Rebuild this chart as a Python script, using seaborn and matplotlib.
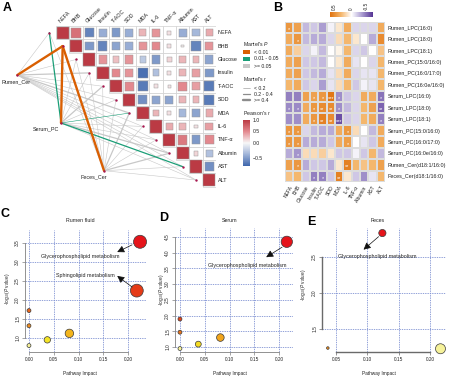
import numpy as np
import pandas as pd
import matplotlib
matplotlib.use("Agg")
import matplotlib.pyplot as plt
import seaborn as sns
from matplotlib.colors import LinearSegmentedColormap, TwoSlopeNorm
from matplotlib.patches import Rectangle
from matplotlib.cm import ScalarMappable

sns.set_theme(style="white")
plt.rcParams['font.family'] = ['Liberation Sans', 'DejaVu Sans']
plt.rcParams['mathtext.fontset'] = 'custom'
plt.rcParams['mathtext.rm'] = 'Liberation Sans'
plt.rcParams['mathtext.it'] = 'Liberation Sans:italic'

# ---------------- data ----------------
env_vars = ["NEFA", "BHB", "Glucose", "Insulin", "T-AOC", "SOD", "MDA",
            "IL-6", "TNF-α", "Albumin", "AST", "ALT"]

# Panel A: upper triangle of Pearson's r (each row starts at the diagonal)
pearson_rows = [
    [1.0, 0.65, -0.6, -0.4, -0.5, -0.4, 0.3, 0.45, 0.1, -0.4, -0.35, 0.35],
    [1.0, -0.5, -0.6, -0.45, -0.4, 0.45, 0.5, 0.1, 0.05, -0.6, 0.45],
    [1.0, 0.45, 0.25, 0.45, -0.25, -0.5, 0.15, 0.3, 0.3, -0.45],
    [1.0, 0.5, 0.45, -0.7, -0.3, 0.1, 0.3, 0.4, -0.5],
    [1.0, 0.5, -0.65, 0.1, 0.08, 0.5, 0.4, -0.65],
    [1.0, -0.55, -0.45, -0.45, 0.3, 0.3, -0.65],
    [1.0, 0.3, 0.1, -0.35, -0.45, 0.35],
    [1.0, 0.35, 0.3, 0.1, 0.4],
    [1.0, 0.6, -0.5, 0.5],
    [1.0, 0.15, -0.3],
    [1.0, -0.55],
    [1.0],
]

mantel_sources = ["Rumen_Cer", "Serum_PC", "Feces_Cer"]
mantel_p_rumen = [">=0.05", "<0.01", ">=0.05", ">=0.05", ">=0.05", ">=0.05",
                  ">=0.05", ">=0.05", ">=0.05", ">=0.05", ">=0.05", ">=0.05"]
mantel_p_serum = ["0.01-0.05", "<0.01", ">=0.05", ">=0.05", ">=0.05", ">=0.05",
                  "0.01-0.05", ">=0.05", ">=0.05", ">=0.05", "0.01-0.05", ">=0.05"]
mantel_p_feces = [">=0.05", "<0.01", ">=0.05", ">=0.05", ">=0.05", ">=0.05",
                  ">=0.05", ">=0.05", ">=0.05", ">=0.05", ">=0.05", ">=0.05"]
mantel_r_rumen = ["<0.2", ">=0.4", "<0.2", "0.2-0.4", "<0.2", "<0.2",
                  "0.2-0.4", "<0.2", "<0.2", "<0.2", "<0.2", "<0.2"]
mantel_r_serum = ["0.2-0.4", ">=0.4", "<0.2", "<0.2", "0.2-0.4", "<0.2",
                  "<0.2", "<0.2", "<0.2", "0.2-0.4", "0.2-0.4", "<0.2"]
mantel_r_feces = ["<0.2", ">=0.4", "<0.2", "<0.2", "<0.2", "<0.2",
                  "0.2-0.4", "<0.2", "<0.2", "0.2-0.4", "<0.2", "<0.2"]

# Panel B
metabolites = ["Rumen_LPC(16:0)", "Rumen_LPC(18:0)", "Rumen_LPC(18:1)",
               "Rumen_PC(15:0/16:0)", "Rumen_PC(16:0/17:0)", "Rumen_PC(16:0e/16:0)",
               "Serum_LPC(16:0)", "Serum_LPC(18:0)", "Serum_LPC(18:1)",
               "Serum_PC(15:0/16:0)", "Serum_PC(16:0/17:0)", "Serum_PC(16:0e/16:0)",
               "Rumen_Cer(d18:1/16:0)", "Feces_Cer(d18:1/16:0)"]
corr_b = [
    [0.45, 0.40, -0.25, -0.20, -0.35, -0.05, 0.10, 0.35, -0.15, -0.15, -0.15, 0.35],
    [0.35, 0.45, -0.25, -0.30, -0.30, -0.15, 0.15, 0.30, 0.10, 0.00, -0.30, 0.50],
    [0.35, 0.20, -0.15, -0.05, -0.25, 0.00, 0.05, 0.30, -0.15, -0.20, 0.00, 0.25],
    [0.35, 0.40, -0.20, -0.20, -0.25, 0.00, 0.10, 0.35, -0.10, 0.00, -0.15, 0.30],
    [0.35, 0.40, -0.20, -0.25, -0.30, -0.10, 0.15, 0.35, -0.15, -0.10, -0.10, 0.30],
    [0.30, 0.35, -0.20, -0.15, -0.35, -0.10, 0.15, 0.30, -0.20, -0.05, -0.10, 0.30],
    [-0.45, -0.45, 0.40, 0.40, 0.45, 0.60, -0.40, -0.20, -0.15, 0.35, 0.35, -0.50],
    [-0.42, -0.42, 0.35, 0.45, 0.50, 0.50, -0.40, -0.25, -0.15, 0.30, 0.40, -0.55],
    [-0.40, -0.40, 0.35, 0.45, 0.55, 0.50, -0.62, -0.20, -0.15, 0.30, 0.35, -0.45],
    [0.45, 0.45, -0.15, -0.25, -0.30, -0.30, 0.35, 0.45, 0.15, 0.00, -0.25, 0.35],
    [0.45, 0.45, -0.30, -0.30, -0.30, -0.20, 0.35, 0.42, 0.00, -0.10, -0.20, 0.35],
    [-0.30, -0.38, 0.15, 0.15, 0.20, 0.10, -0.20, -0.20, -0.05, -0.20, 0.30, -0.25],
    [0.40, 0.45, -0.30, -0.20, -0.20, -0.30, 0.10, 0.55, 0.30, 0.25, 0.30, 0.40],
    [0.25, 0.30, -0.20, -0.45, -0.45, -0.20, 0.55, 0.10, -0.20, -0.40, -0.10, 0.30],
]
sig_rows = [0, 1, 6, 6, 6, 6, 6, 7, 7, 7, 7, 7, 7, 7, 8, 8, 8, 8, 8,
            9, 9, 9, 10, 10, 10, 11, 12, 12, 13, 13, 13]
sig_cols = [0, 1, 3, 4, 5, 6, 11, 0, 1, 3, 4, 5, 6, 11, 3, 4, 5, 6, 11,
            0, 1, 7, 0, 1, 7, 1, 1, 7, 3, 4, 6]
sig_marks = ["*", "*", "*", "*", "***", "*", "*", "*", "*", "*", "**", "**", "*", "**",
             "*", "**", "**", "***", "*", "*", "*", "*", "*", "*", "*", "*", "*", "**",
             "*", "*", "**"]

# Panels C-E (pathway impact vs -log10 P)
c_impact = [0.224, 0.2175, 0.0, 0.0, 0.0, 0.037, 0.0815]
c_logp = [3.53, 2.245, 1.72, 1.32, 0.80, 0.95, 1.12]
d_impact = [0.2155, 0.0, 0.0, 0.0, 0.037, 0.0815]
d_logp = [4.35, 1.89, 1.47, 0.95, 1.09, 1.30]
e_impact = [0.124, 0.037, 0.2167]
e_logp = [2.83, 1.235, 1.225]

# ---------------- figure ----------------
W, H = 449, 376
fig = plt.figure(figsize=(W / 100, H / 100), dpi=100)
fig.patch.set_facecolor("white")


def px_axes(l, t, r, b):
    return fig.add_axes([l / W, 1 - b / H, (r - l) / W, (b - t) / H])


def ftext(x, y, s, **kw):
    kw.setdefault("ha", "center")
    kw.setdefault("va", "center")
    fig.text(x / W, 1 - y / H, s, **kw)


TXT = "#222222"

# ---------- Panel A ----------
cmapA = LinearSegmentedColormap.from_list(
    "pr", ["#3E66AC", "#9FB3D8", "#F7F7F7", "#E3898F", "#BB3A44"])
normA = TwoSlopeNorm(vmin=-0.75, vcenter=0.0, vmax=1.0)

axA = px_axes(0, 0, 216, 200)
axA.set_xlim(-4.2, 12)
axA.set_ylim(12.99, -1.94)
axA.axis("off")

n = len(env_vars)
for i, row in enumerate(pearson_rows):
    for k, r in enumerate(row):
        j = i + k
        axA.add_patch(Rectangle((j, i), 1, 1, facecolor="white",
                                edgecolor="#D0D0D0", lw=0.5, zorder=1))
        side = 0.92 * np.sqrt(abs(r))
        axA.add_patch(Rectangle((j + 0.5 - side / 2, i + 0.5 - side / 2), side, side,
                                facecolor=cmapA(normA(r)), edgecolor="#9A9A9A",
                                lw=0.35, zorder=2))

for i, name in enumerate(env_vars):
    axA.text(12.15, i + 0.5, name, ha="left", va="center", fontsize=3.9, color=TXT)
    axA.text(i + 0.4, -0.15, name, ha="left", va="bottom", rotation=45,
             rotation_mode="anchor", fontsize=3.9, color=TXT)

src_pos = {"Rumen_Cer": (-2.9, 3.66), "Serum_PC": (0.375, 7.24), "Feces_Cer": (3.6, 10.8)}
src_label = {"Rumen_Cer": (-3.0, 4.15, "center"), "Serum_PC": (0.25, 7.7, "right"),
             "Feces_Cer": (3.8, 11.25, "right")}
p_color = {"<0.01": "#D95F02", "0.01-0.05": "#1B9E77", ">=0.05": "#C8C8C8"}
r_width = {"<0.2": 0.4, "0.2-0.4": 0.9, ">=0.4": 1.7}
p_lists = {"Rumen_Cer": mantel_p_rumen, "Serum_PC": mantel_p_serum, "Feces_Cer": mantel_p_feces}
r_lists = {"Rumen_Cer": mantel_r_rumen, "Serum_PC": mantel_r_serum, "Feces_Cer": mantel_r_feces}

tx = [i - 0.5 for i in range(n)]
ty = [i + 0.5 for i in range(n)]
for layer in [">=0.05", "0.01-0.05", "<0.01"]:
    for s in mantel_sources:
        sx, sy = src_pos[s]
        for i in range(n):
            p = p_lists[s][i]
            if p != layer:
                continue
            axA.plot([sx, tx[i]], [sy, ty[i]], color=p_color[p],
                     lw=r_width[r_lists[s][i]], solid_capstyle="round",
                     zorder=3 if p == ">=0.05" else 4)
axA.scatter(tx, ty, s=3, color="#A8174F", zorder=6, linewidths=0)
axA.scatter([src_pos[s][0] for s in mantel_sources], [src_pos[s][1] for s in mantel_sources],
            s=3, color="#A8174F", zorder=6, linewidths=0)
for s in mantel_sources:
    lx, ly, ha = src_label[s]
    axA.text(lx, ly, s, ha=ha, va="center", fontsize=3.9, color=TXT)

# legend of panel A
axL = px_axes(236, 36, 300, 175)
axL.set_xlim(236, 300)
axL.set_ylim(175, 36)
axL.axis("off")
axL.text(243, 44, r"Mantel's $\it{P}$", fontsize=3.7, va="center", color=TXT)
for yy, lab in zip([52, 59, 66], ["<0.01", "0.01-0.05", ">=0.05"]):
    axL.add_patch(Rectangle((243, yy - 2), 7, 4, facecolor=p_color[lab], edgecolor="none"))
    axL.text(254, yy, {"<0.01": "< 0.01", "0.01-0.05": "0.01 - 0.05",
                       ">=0.05": ">= 0.05"}[lab], fontsize=3.7, va="center", color=TXT)
axL.text(243, 79, r"Mantel's $\it{r}$", fontsize=3.7, va="center", color=TXT)
for yy, lab in zip([88, 94, 100], ["<0.2", "0.2-0.4", ">=0.4"]):
    axL.plot([243, 250], [yy, yy], color="#8C8C8C", lw=r_width[lab])
    axL.text(254, yy, {"<0.2": "< 0.2", "0.2-0.4": "0.2 - 0.4",
                       ">=0.4": ">= 0.4"}[lab], fontsize=3.7, va="center", color=TXT)
axL.text(243, 113, r"Pearson's $\it{r}$", fontsize=3.7, va="center", color=TXT)

caxA = px_axes(243, 120, 250, 166)
cbA = fig.colorbar(ScalarMappable(norm=normA, cmap=cmapA), cax=caxA)
cbA.set_ticks([1.0, 0.5, 0.0, -0.5])
cbA.set_ticklabels(["1.0", "0.5", "0.0", "\u22120.5"])
cbA.outline.set_visible(False)
caxA.tick_params(length=0, labelsize=3.7, pad=2, labelcolor=TXT)

# ---------- Panel B ----------
cmapB = LinearSegmentedColormap.from_list(
    "po", ["#553494", "#A99BD0", "#FFFFFF", "#F4B468", "#E0730F"])
normB = TwoSlopeNorm(vmin=-0.72, vcenter=0.0, vmax=0.62)
dfB = pd.DataFrame(corr_b, index=metabolites, columns=env_vars)
axB = px_axes(285, 22, 385, 182)
sns.heatmap(dfB, ax=axB, cmap=cmapB, norm=normB, cbar=False, linewidths=0.3,
            linecolor="#DCDCDC", xticklabels=True, yticklabels=True)
axB.yaxis.tick_right()
axB.set_yticklabels(metabolites, rotation=0, fontsize=3.9, color=TXT)
axB.set_xticklabels(env_vars, rotation=60, ha="right", rotation_mode="anchor",
                    fontsize=3.6, color=TXT)
axB.tick_params(length=0, pad=2)
axB.set_xlabel("")
axB.set_ylabel("")
for r, c, m in zip(sig_rows, sig_cols, sig_marks):
    axB.text(c + 0.5, r + 0.68, m, ha="center", va="center", fontsize=4.0, color="white")

caxB = px_axes(330, 12, 373, 17)
cbB = fig.colorbar(ScalarMappable(norm=normB, cmap=cmapB), cax=caxB, orientation="horizontal")
caxB.invert_xaxis()
cbB.set_ticks([0.5, 0.0, -0.5])
cbB.set_ticklabels(["0.5", "0", "-0.5"])
cbB.outline.set_visible(False)
caxB.xaxis.set_ticks_position("top")
caxB.tick_params(length=0, labelsize=3.4, pad=1.5, labelrotation=90, labelcolor=TXT)

# ---------- Panels C, D, E ----------
heat = LinearSegmentedColormap.from_list(
    "heat", ["#F6F29A", "#F4E425", "#F3B51D", "#EE8C1E", "#E8651A", "#E53B17", "#E5141A"])


def pathway_panel(ax, impact, logp, xlim, ylim, xticks, yticks, xfmt, sizes, size_norm,
                  spine_color, spine_lw):
    df = pd.DataFrame({"impact": impact, "logp": logp})
    df["rank"] = df["logp"].rank(method="first")
    sns.scatterplot(data=df, x="impact", y="logp", hue="rank", palette=heat,
                    hue_norm=(1, len(df)), size="impact", sizes=sizes, size_norm=size_norm,
                    edgecolor="#3A3A3A", linewidth=0.5, legend=False, ax=ax,
                    clip_on=False, zorder=3)
    ax.set_xlim(*xlim)
    ax.set_ylim(*ylim)
    ax.set_xticks(xticks)
    ax.set_yticks(yticks)
    ax.set_xticklabels([xfmt.format(v) for v in xticks])
    ax.set_yticklabels(["{:.1f}".format(v) for v in yticks], rotation=90, va="center")
    ax.set_axisbelow(True)
    ax.grid(True, color="#7E90D2", linestyle=(0, (1.6, 1.2)), linewidth=0.6)
    for s in ["top", "right"]:
        ax.spines[s].set_visible(False)
    ax.spines["left"].set_bounds(yticks[0], yticks[-1])
    ax.spines["bottom"].set_bounds(xticks[0], xticks[-1])
    for s in ["left", "bottom"]:
        ax.spines[s].set_color(spine_color)
        ax.spines[s].set_linewidth(spine_lw)
    ax.tick_params(length=2, width=0.5, color=spine_color, labelsize=3.4, pad=1.5,
                   labelcolor=TXT, bottom=True, left=True)
    ax.set_xlabel("")
    ax.set_ylabel("")
    ax.set_facecolor("white")


def arrow(ax, head, tail):
    ax.annotate("", xy=head, xytext=tail,
                arrowprops=dict(arrowstyle="-|>,head_length=0.35,head_width=0.18",
                                color="#111111", lw=0.5, shrinkA=0, shrinkB=0))


ylab = r"-log$_{10}$($\it{P}$ value)"

# C
axC = px_axes(25, 230, 146, 352)
pathway_panel(axC, c_impact, c_logp, (-0.008, 0.236), (0.63, 3.84),
              [0.0, 0.05, 0.10, 0.15, 0.20], [1.0, 1.5, 2.0, 2.5, 3.0, 3.5], "{:.2f}",
              (8, 88), (0.0, 0.224), "#808080", 0.6)
arrow(axC, (0.178, 3.26), (0.208, 3.45))
arrow(axC, (0.178, 2.63), (0.208, 2.34))
axC.text(0.103, 3.13, "Glycerophospholipid metabolism", ha="center", va="center",
         fontsize=3.9, color=TXT)
axC.text(0.113, 2.63, "Sphingolipid metabolism", ha="center", va="center",
         fontsize=3.9, color=TXT)

# D
axD = px_axes(175, 228, 293, 352)
pathway_panel(axD, d_impact, d_logp, (-0.01, 0.228), (0.84, 4.79),
              [0.0, 0.05, 0.10, 0.15, 0.20], [1.0, 1.5, 2.0, 2.5, 3.0, 3.5, 4.0, 4.5],
              "{:.2f}", (8, 66), (0.0, 0.2155), "#808080", 0.6)
arrow(axD, (0.174, 3.86), (0.206, 4.18))
axD.text(0.135, 3.61, "Glycerophospholipid metabolism", ha="center", va="center",
         fontsize=3.9, color=TXT)

# E
axE = px_axes(322, 228, 446, 352)
pathway_panel(axE, e_impact, e_logp, (0.0277, 0.2255), (1.18, 2.9),
              [0.05, 0.10, 0.15, 0.20], [1.5, 2.0, 2.5], "{:.2f}",
              (3.5, 52), (0.037, 0.2167), "#6A6A6A", 1.0)
arrow(axE, (0.094, 2.60), (0.118, 2.78))
axE.text(0.116, 2.51, "Glycerophospholipid metabolism", ha="center", va="center",
         fontsize=3.9, color=TXT)

# titles and axis labels
ftext(80, 221, "Rumen fluid", fontsize=3.8, color=TXT)
ftext(230, 221, "Serum", fontsize=3.8, color=TXT)
ftext(378, 221, "Feces", fontsize=3.8, color=TXT)
for x in [80, 230, 379]:
    ftext(x, 373, "Pathway Impact", fontsize=3.4, color=TXT)
ftext(7, 289, ylab, fontsize=3.4, rotation=90, color=TXT)
ftext(162, 290, ylab, fontsize=3.4, rotation=90, color=TXT)
ftext(304, 285, ylab, fontsize=3.4, rotation=90, color=TXT)

# panel letters
for x, y, s in [(7, 8, "A"), (278, 8, "B"), (5, 214, "C"), (164, 218, "D"), (311, 222, "E")]:
    ftext(x, y, s, fontsize=9, fontweight="bold", color="black")

fig.savefig("out.png", dpi=100, facecolor="white")
